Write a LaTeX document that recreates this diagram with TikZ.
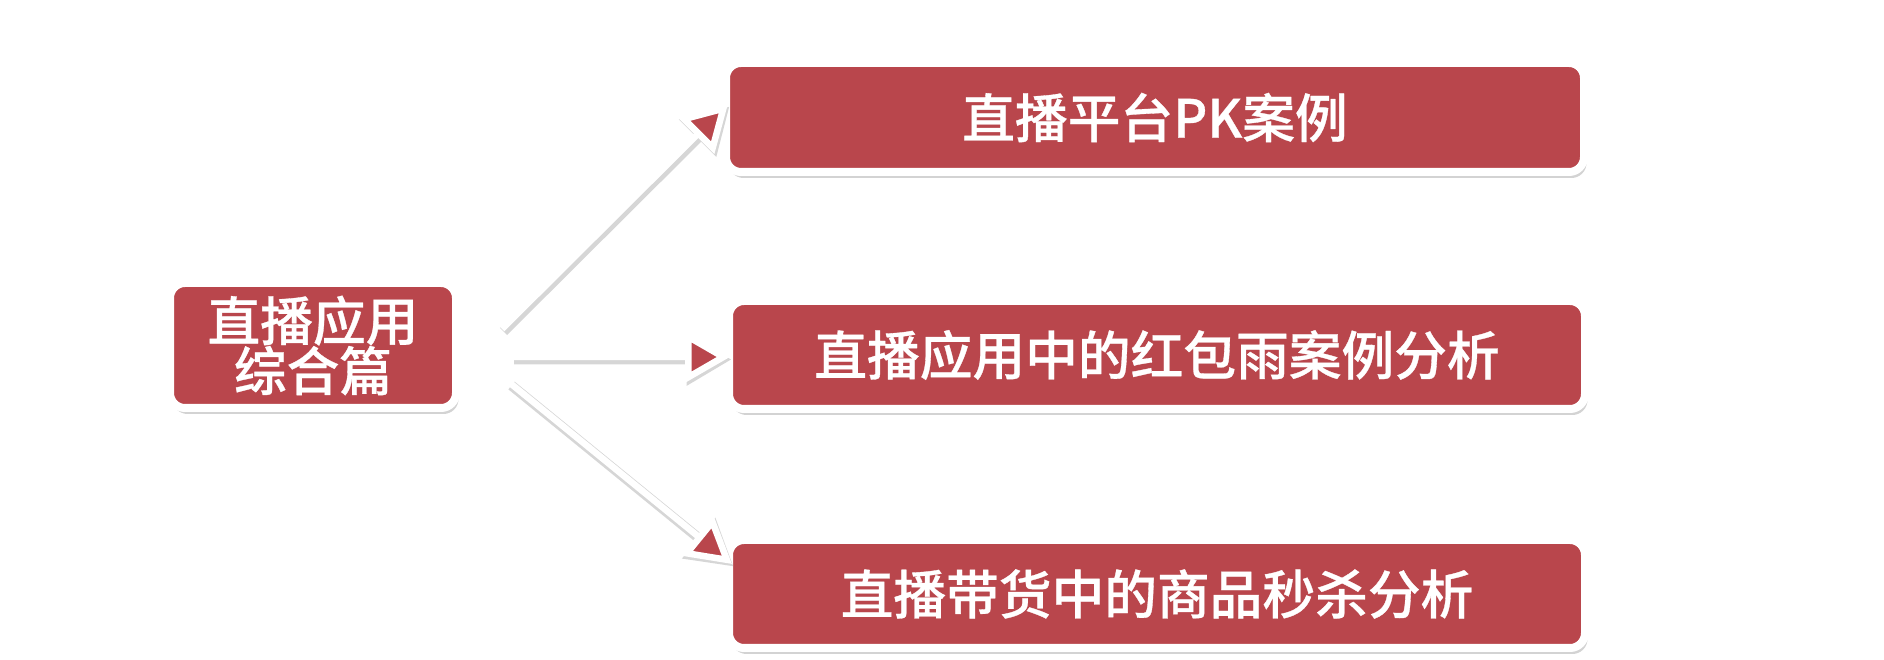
\documentclass[tikz,border=0pt]{standalone}
\usepackage{fontspec}
\newfontfamily\cjk{Noto Sans CJK SC Medium}[FakeBold=0.6]
\usetikzlibrary{arrows.meta,calc,positioning,shadows}
\definecolor{boxred}{RGB}{185,70,76}

\begin{document}
\begin{tikzpicture}[
  font=\cjk\fontsize{30pt}{28.5pt}\selectfont,
  box/.style={draw=white,line width=0.16cm,fill=boxred,rounded corners=0.3cm,
    text=white,inner sep=0pt,align=center,
    drop shadow={opacity=0.35,shadow xshift=0.05cm,shadow yshift=-0.12cm}},
  link/.style={white,line width=0.13cm,
    -{Triangle[length=0.9cm,width=1.0cm,fill=boxred]},
    preaction={draw=black!16,line width=0.2cm,
      transform canvas={shift={(0.03cm,-0.05cm)}}}}]
  \useasboundingbox (0,0) rectangle (37.68,13.2);
  % topic on the left
  \node[box,minimum width=5.72cm,minimum height=2.5cm] (main) at (6.26,6.29)
       {直播应用\\综合篇};
  % the three cases
  \node[box,minimum width=17.16cm,minimum height=2.18cm] (pk) at (23.1,10.85)
       {直播平台PK案例};
  \node[box,minimum width=17.12cm,minimum height=2.16cm] (hb) at (23.14,6.1)
       {直播应用中的红包雨案例分析};
  \node[box,minimum width=17.12cm,minimum height=2.16cm] (sk) at (23.14,1.32)
       {直播带货中的商品秒杀分析};
  % connectors
  \draw[link] ($(main.east)+(0.84,0.33)$) -- ($(pk.west)+(0.12,0.27)$);
  \draw[link] ($(main.east)+(1.05,-0.23)$) -- ($(hb.west)+(0.1,-0.04)$);
  \draw[link] ($(main.east)+(1.0,-0.75)$) -- ($(sk.north west)+(0.14,-0.56)$);
\end{tikzpicture}
\end{document}
